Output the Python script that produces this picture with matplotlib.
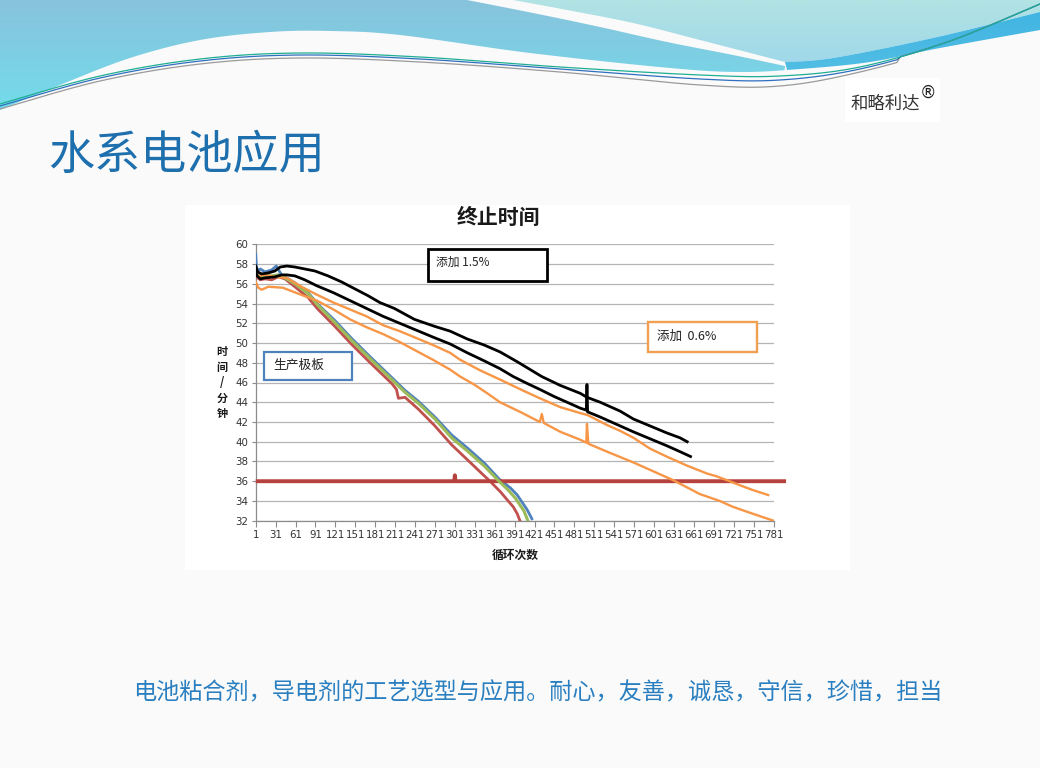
import numpy as np
import matplotlib.pyplot as plt
from matplotlib.patches import Rectangle, Polygon
from matplotlib.colors import LinearSegmentedColormap

plt.rcParams['font.family'] = ['Noto Sans CJK SC', 'DejaVu Sans']

# ---- data: cycle number vs end time (minutes) ----
black_hi_x = [1, 4, 10, 20, 30, 38, 48, 60, 75, 90, 110, 130, 150, 170, 188, 210, 240,
              270, 294, 320, 345, 369, 395, 432, 460, 490, 500, 520, 550, 570, 595,
              620, 640, 651]
black_hi_y = [57.8, 57.2, 57.0, 57.1, 57.3, 57.7, 57.8, 57.7, 57.5, 57.3, 56.8, 56.2,
              55.5, 54.8, 54.1, 53.5, 52.4, 51.7, 51.2, 50.4, 49.8, 49.1, 48.1, 46.6,
              45.7, 44.9, 44.5, 44.0, 43.1, 42.3, 41.6, 40.9, 40.4, 40.0]

black_lo_x = [1, 3, 8, 15, 30, 40, 48, 60, 75, 93, 118, 143, 168, 193, 218, 243, 268,
              294, 320, 345, 369, 389, 410, 429, 450, 470, 490, 499, 500, 501, 502,
              520, 550, 570, 595, 620, 640, 656]
black_lo_y = [57.3, 56.8, 56.5, 56.6, 56.7, 56.9, 56.9, 56.8, 56.4, 55.8, 55.1, 54.3,
              53.5, 52.7, 52.0, 51.3, 50.6, 49.9, 49.0, 48.2, 47.4, 46.6, 45.9, 45.3,
              44.6, 44.0, 43.4, 43.2, 45.8, 43.0, 43.0, 42.5, 41.6, 41.0, 40.3, 39.6,
              39.0, 38.5]

orange_hi_x = [1, 5, 15, 30, 48, 70, 93, 118, 143, 168, 193, 218, 243, 268, 294, 309,
               340, 369, 400, 429, 460, 490, 501, 530, 550, 570, 595, 620, 650, 680,
               695, 715, 730, 750, 773]
orange_hi_y = [57.0, 56.8, 56.9, 56.7, 56.6, 55.7, 54.9, 54.1, 53.4, 52.7, 51.8, 51.2,
               50.5, 49.8, 49.0, 48.3, 47.2, 46.3, 45.3, 44.4, 43.5, 42.9, 42.7, 41.7,
               41.1, 40.4, 39.3, 38.5, 37.6, 36.8, 36.5, 36.0, 35.6, 35.1, 34.6]

orange_lo_x = [1, 5, 10, 20, 42, 65, 93, 118, 143, 168, 193, 218, 243, 268, 294, 309,
               330, 350, 369, 400, 429, 432, 435, 460, 490, 499, 500, 502, 530, 570,
               600, 630, 650, 670, 700, 720, 750, 781]
orange_lo_y = [56.2, 55.6, 55.4, 55.7, 55.6, 55.0, 54.3, 53.4, 52.4, 51.6, 50.9, 50.1,
               49.2, 48.3, 47.3, 46.6, 45.8, 44.9, 44.0, 43.0, 42.0, 42.8, 41.9, 41.0,
               40.2, 39.9, 41.8, 39.8, 39.0, 37.9, 37.0, 36.1, 35.4, 34.7, 34.0, 33.4,
               32.7, 32.0]

blue_x = [1, 2, 4, 8, 15, 25, 32, 40, 50, 60, 80, 95, 120, 145, 175, 206, 226, 246, 271,
          296, 321, 346, 368, 385, 395, 403, 410, 417]
blue_y = [59.0, 57.8, 57.3, 57.5, 57.2, 57.4, 57.8, 56.9, 56.5, 56.1, 55.1, 53.9, 52.3,
          50.5, 48.5, 46.5, 45.2, 44.1, 42.5, 40.7, 39.3, 37.8, 36.2, 35.3, 34.6, 33.8,
          33.1, 32.2]

red_x = [1, 4, 8, 15, 25, 35, 45, 60, 80, 95, 120, 145, 175, 206, 213, 216, 226, 246,
         271, 296, 321, 346, 354, 370, 380, 389, 395, 399]
red_y = [57.0, 56.6, 56.4, 56.5, 56.4, 56.7, 56.5, 55.7, 54.6, 53.4, 51.7, 49.9, 47.9,
         45.9, 45.3, 44.4, 44.5, 43.3, 41.6, 39.7, 38.1, 36.5, 36.0, 34.9, 34.1, 33.4,
         32.7, 32.0]

green_x = [1, 4, 8, 15, 25, 35, 45, 60, 80, 95, 120, 145, 175, 206, 226, 246, 271, 296,
           321, 346, 366, 380, 392, 399, 405, 411]
green_y = [57.3, 56.9, 56.7, 56.8, 56.8, 56.9, 56.6, 56.0, 55.0, 53.8, 52.1, 50.3, 48.3,
           46.3, 45.0, 43.9, 42.3, 40.4, 39.0, 37.5, 36.1, 35.2, 34.3, 33.6, 33.0, 32.0]

limit_x = [4, 300, 301, 302, 797]
limit_y = [36, 36, 36.6, 36, 36]

x_ticks = [1, 31, 61, 91, 121, 151, 181, 211, 241, 271, 301, 331, 361, 391, 421, 451,
           481, 511, 541, 571, 601, 631, 661, 691, 721, 751, 781]
y_ticks = [32, 34, 36, 38, 40, 42, 44, 46, 48, 50, 52, 54, 56, 58, 60]

W, H = 1040, 768


def smooth(pts, n=24):
    # Catmull-Rom curve through a few control points (slide decoration only)
    pts = np.asarray(pts, float)
    p = np.vstack([pts[0], pts, pts[-1]])
    out = []
    t = np.linspace(0, 1, n, endpoint=False)[:, None]
    for i in range(1, len(p) - 2):
        p0, p1, p2, p3 = p[i - 1], p[i], p[i + 1], p[i + 2]
        out.append(0.5 * (2 * p1 + (-p0 + p2) * t + (2 * p0 - 5 * p1 + 4 * p2 - p3) * t ** 2
                          + (-p0 + 3 * p1 - 3 * p2 + p3) * t ** 3))
    out.append(pts[-1:])
    return np.vstack(out)


def pixel_axes(zorder):
    a = fig.add_axes([0, 0, 1, 1], zorder=zorder)
    a.set_xlim(0, W)
    a.set_ylim(H, 0)
    a.axis('off')
    a.patch.set_alpha(0)
    return a


def gradient_fill(a, outline, c_top, c_bot, y0=0, y1=130):
    poly = Polygon(outline, closed=True, facecolor='none', edgecolor='none')
    a.add_patch(poly)
    cmap = LinearSegmentedColormap.from_list('g', [c_top, c_bot])
    grad = np.linspace(0, 1, 128).reshape(-1, 1)
    im = a.imshow(grad, extent=[0, W, y1, y0], cmap=cmap, aspect='auto', origin='upper')
    im.set_clip_path(poly)


fig = plt.figure(figsize=(10.4, 7.68), dpi=100, facecolor='#fafafa')

# ---- slide background / header wave ----
bg = pixel_axes(0)
lower_edge = smooth([(0, 110), (60, 85), (130, 58), (200, 40), (270, 32), (330, 31),
                     (400, 35), (530, 53), (670, 68), (740, 72), (800, 69), (870, 62),
                     (940, 48), (1040, 30)])
swoosh_l = smooth([(467, 0), (533, 13), (600, 27), (667, 42), (733, 55), (785, 66)])
swoosh_r = smooth([(513, 0), (567, 10), (633, 23), (700, 40), (785, 62)])
right_low = smooth([(785, 62), (833, 58), (933, 38), (1040, 12)])

left_mask = lower_edge[:, 0] <= 785
left_outline = np.vstack([[(0, 0)], swoosh_l, lower_edge[left_mask][::-1]])
gradient_fill(bg, left_outline, '#88c3dc', '#6ee0ee')

right_outline = np.vstack([swoosh_r, right_low, [(1040, 0)]])
gradient_fill(bg, right_outline, '#b2e3e4', '#8ccdef')

band_outline = np.vstack([right_low, lower_edge[~left_mask][::-1]])
gradient_fill(bg, band_outline, '#3fb3e2', '#5fc6e6')

for col, dy in [('#9a9a9a', 5), ('#2f6fc0', 2), ('#1fae93', 0)]:
    c = smooth([(0, 104), (100, 76), (200, 59), (300, 53), (420, 57), (560, 67),
                (700, 75 + dy), (780, 76 + dy), (860, 67), (950, 41), (1040, 4)])
    c[:, 1] += dy * (c[:, 0] < 900)
    bg.plot(c[:, 0], c[:, 1], color=col, lw=0.9)

bg.add_patch(Rectangle((845, 78), 95, 44, facecolor='white', edgecolor='none'))
bg.text(851, 104, '和略利达', fontsize=12.5, color='#333333', va='center', ha='left')
bg.text(920, 93, '®', fontsize=12, color='#222222', va='center', ha='left',
        family='DejaVu Sans')
bg.text(48, 156, '水系电池应用', fontsize=33.2, color='#1e6fad', va='center', ha='left')
bg.text(133, 693, '电池粘合剂，导电剂的工艺选型与应用。耐心，友善，诚恳，守信，珍惜，担当',
        fontsize=16.7, color='#2a7fc0', va='center', ha='left')

# chart picture area
bg.add_patch(Rectangle((185, 205), 665, 365, facecolor='white', edgecolor='none'))
bg.text(498, 217, '终止时间', fontsize=15, fontweight='bold', color='#1a1a1a',
        ha='center', va='center')
for ch, yy in zip('时间/分钟', [352, 367, 382, 398, 413]):
    bg.text(222, yy, ch, fontsize=8, fontweight='bold', color='#1a1a1a',
            ha='center', va='center')
bg.text(515, 555, '循环次数', fontsize=8.5, fontweight='bold', color='#1a1a1a',
        ha='center', va='center')

# ---- the chart ----
ax = fig.add_axes([255.7 / W, 1 - 520.7 / H, (773.5 - 255.7) / W, (520.7 - 244.3) / H],
                  zorder=2)
ax.set_facecolor('white')
ax.set_xlim(1, 781)
ax.set_ylim(32, 60)
ax.set_xticks(x_ticks)
ax.set_xticklabels([str(v) for v in x_ticks], family='DejaVu Sans', fontsize=7.4,
                   color='#333333')
ax.set_yticks(y_ticks)
ax.set_yticklabels([str(v) for v in y_ticks], family='DejaVu Sans', fontsize=7.4,
                   color='#333333')
ax.tick_params(axis='x', direction='out', length=4, pad=3, color='#8c8c8c')
ax.tick_params(axis='y', direction='out', length=3, pad=2.5, color='#8c8c8c')
ax.grid(axis='y', color='#b4b4b4', lw=0.9)
ax.set_axisbelow(True)
for s in ['top', 'right']:
    ax.spines[s].set_visible(False)
for s in ['left', 'bottom']:
    ax.spines[s].set_color('#8c8c8c')
    ax.spines[s].set_linewidth(0.9)

ax.plot(blue_x, blue_y, color='#4f81bd', lw=2.0, zorder=3)
ax.plot(red_x, red_y, color='#c0504d', lw=2.0, zorder=3)
ax.plot(limit_x, limit_y, color='#b6423e', lw=2.8, zorder=3, clip_on=False)
ax.plot(green_x, green_y, color='#9bbb59', lw=2.2, zorder=4)
ax.plot(orange_lo_x, orange_lo_y, color='#f79646', lw=1.7, zorder=4)
ax.plot(orange_hi_x, orange_hi_y, color='#f79646', lw=1.7, zorder=4)
ax.plot(black_lo_x, black_lo_y, color='black', lw=2.0, zorder=5)
ax.plot(black_hi_x, black_hi_y, color='black', lw=2.0, zorder=5)

# ---- text boxes on the chart ----
top = pixel_axes(3)
top.add_patch(Rectangle((428, 249), 119, 32, facecolor='white', edgecolor='black', lw=2))
top.text(436, 262, '添加 1.5%', fontsize=8.5, color='#222222', va='center', ha='left')
top.add_patch(Rectangle((648, 322), 109, 30, facecolor='white', edgecolor='#f0a050', lw=1.7))
top.text(657, 336, '添加  0.6%', fontsize=9, color='#222222', va='center', ha='left')
top.add_patch(Rectangle((264, 352), 88, 28, facecolor='white', edgecolor='#4f81bd', lw=1.6))
top.text(273, 365, '生产极板', fontsize=9.2, color='#222222', va='center', ha='left')

fig.savefig('out.png', dpi=100, facecolor=fig.get_facecolor())
